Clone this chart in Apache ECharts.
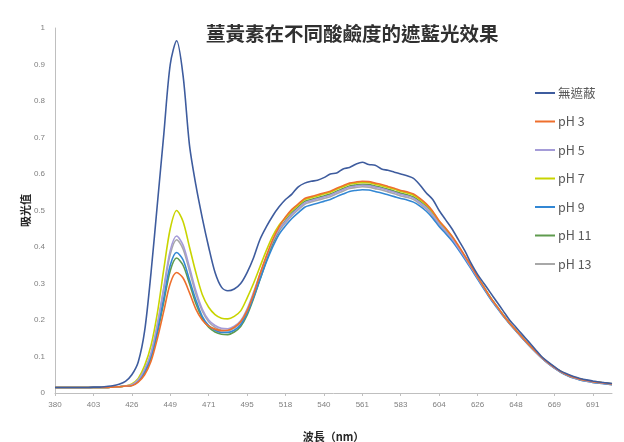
<!DOCTYPE html>
<html>
<head>
<meta charset="utf-8">
<title>薑黃素在不同酸鹼度的遮藍光效果</title>
<script src="https://cdn.jsdelivr.net/npm/echarts@6/dist/echarts.min.js"></script>
<style>
  html, body { margin: 0; padding: 0; background: #fff; }
  #chart { width: 624px; height: 442px; }
</style>
</head>
<body>
<div id="chart"></div>
<script>
// wavelength categories (nm), label shown every 6th point
const wavelengths = [
  380, 384, 388, 392, 395, 399,
  403, 407, 411, 414, 418, 422,
  426, 430, 434, 437, 441, 445,
  449, 453, 456, 460, 464, 467,
  471, 475, 479, 483, 487, 491,
  495, 499, 503, 507, 510, 514,
  518, 522, 525, 529, 533, 536,
  540, 544, 547, 551, 554, 558,
  561, 565, 568, 572, 576, 579,
  583, 587, 590, 594, 597, 601,
  604, 608, 611, 615, 619, 622,
  626, 630, 633, 637, 641, 644,
  648, 652, 655, 659, 662, 666,
  669, 673, 676, 680, 684, 687,
  691, 695, 698, 702
]

const seriesNames = ['無遮蔽', 'pH 3', 'pH 5', 'pH 7', 'pH 9', 'pH 11', 'pH 13']
const seriesColors = ['#3e5c9e', '#ee6f2d', '#a59cd8', '#c8d400', '#3287d4', '#5f9b4e', '#a8a8a8']

const noCover = [
  .015, .015, .015, .015, .015, .015, .016, .016, .018, .020, .024, .032,
  .050, .085, .17, .33, .52, .71, .90, .965, .87, .68, .57, .48, .40, .33, .29, .28, .285,
  .30, .33, .37, .42, .455, .485, .51,
  .53, .545, .565, .575, .58, .583, .59, .60, .603, .614, .618, .627,
  .632, .626, .624, .614, .61, .605, .60, .595, .588, .57, .548, .53,
  .50, .475, .45, .42, .39, .355, .325, .30, .275, .25, .225, .20,
  .18, .16, .14, .12, .10, .085, .072, .06, .052, .045, .04, .036, .033, .03, .028, .026
]
const ph3 = [
  .015, .015, .015, .015, .015, .015, .015, .015, .015, .016, .017, .019,
  .02, .03, .05, .087, .15, .225, .30, .33, .315, .275, .23, .20, .183, .175, .171, .172, .18,
  .195, .225, .27, .325, .375, .42, .455,
  .482, .503, .518, .533, .538, .543, .548, .553, .561, .568, .575, .578,
  .58, .579, .575, .571, .566, .561, .555, .551, .545, .533, .518, .498,
  .472, .452, .43, .404, .376, .348, .318, .29, .262, .238, .214, .192,
  .172, .152, .133, .115, .098, .083, .07, .059, .05, .043, .038, .034, .031, .029, .027, .025
]
const ph5 = [
  .015, .015, .015, .015, .015, .015, .015, .015, .015, .016, .017, .019,
  .023, .036, .065, .11, .19, .29, .39, .43, .405, .345, .28, .23, .20, .185, .177, .176, .183,
  .198, .23, .275, .325, .372, .415, .448,
  .47, .49, .506, .521, .527, .532, .537, .542, .55, .557, .564, .567,
  .569, .568, .564, .56, .555, .55, .544, .54, .534, .522, .508, .488,
  .464, .444, .423, .398, .372, .344, .316, .288, .261, .237, .213, .191,
  .171, .151, .132, .114, .097, .082, .069, .058, .049, .042, .037, .033, .030, .028, .026, .024
]
const ph7 = [
  .015, .015, .015, .015, .015, .015, .015, .015, .015, .016, .017, .019,
  .025, .04, .075, .13, .22, .34, .45, .50, .47, .40, .33, .27, .235, .215, .205, .203, .21,
  .225, .26, .30, .345, .39, .43, .46,
  .48, .50, .515, .53, .535, .54, .545, .55, .558, .565, .572, .575,
  .577, .576, .572, .568, .563, .558, .552, .548, .542, .53, .515, .495,
  .47, .45, .428, .402, .375, .347, .318, .29, .262, .238, .214, .192,
  .172, .152, .133, .115, .098, .083, .07, .059, .05, .043, .038, .034, .031, .029, .027, .025
]
const ph9 = [
  .015, .015, .015, .015, .015, .015, .015, .015, .015, .016, .017, .019,
  .021, .033, .058, .10, .17, .26, .35, .385, .365, .31, .255, .21, .185, .172, .166, .166, .172,
  .187, .218, .262, .31, .358, .40, .435,
  .458, .478, .494, .509, .515, .52, .525, .53, .538, .545, .552, .555,
  .557, .556, .552, .548, .543, .538, .533, .529, .523, .512, .498, .479,
  .456, .437, .417, .393, .367, .34, .312, .285, .258, .234, .211, .19,
  .17, .15, .131, .113, .096, .081, .068, .057, .048, .041, .036, .032, .029, .027, .025, .023
]
const ph11 = [
  .015, .015, .015, .015, .015, .015, .015, .015, .015, .016, .017, .019,
  .021, .032, .056, .096, .165, .25, .335, .37, .35, .30, .245, .205, .18, .167, .161, .16, .167,
  .182, .213, .258, .31, .362, .41, .447,
  .473, .494, .51, .525, .53, .535, .54, .545, .553, .56, .567, .57,
  .572, .571, .567, .563, .558, .553, .547, .543, .537, .525, .511, .491,
  .466, .446, .425, .40, .373, .345, .317, .289, .262, .238, .214, .192,
  .172, .152, .133, .115, .098, .083, .07, .059, .05, .043, .038, .034, .031, .029, .027, .025
]
const ph13 = [
  .015, .015, .015, .015, .015, .015, .015, .015, .015, .016, .017, .019,
  .022, .035, .063, .107, .185, .285, .38, .42, .395, .335, .272, .225, .195, .18, .172, .171, .178,
  .193, .225, .27, .32, .368, .41, .443,
  .466, .486, .502, .517, .523, .528, .533, .538, .546, .553, .56, .563,
  .565, .564, .56, .556, .551, .546, .54, .536, .53, .518, .504, .484,
  .46, .441, .42, .396, .37, .343, .315, .287, .26, .236, .212, .19,
  .17, .15, .131, .113, .096, .081, .068, .057, .048, .041, .036, .032, .029, .027, .025, .023
]

const seriesData = [noCover, ph3, ph5, ph7, ph9, ph11, ph13]

const chart = echarts.init(document.getElementById('chart'))
const FONT = '"Noto Sans CJK TC", "Liberation Sans", sans-serif'

chart.setOption({
  backgroundColor: '#fff',
  animation: false,
  color: seriesColors,
  title: {
    text: '薑黃素在不同酸鹼度的遮藍光效果',
    left: 206,
    top: 24,
    padding: 0,
    textStyle: {
      fontFamily: FONT,
      fontSize: 19.5,
      fontWeight: 'bold',
      color: '#303030'
    }
  },
  // thin line icons, no markers, like the spreadsheet legend
  legend: {
    orient: 'vertical',
    left: 535,
    top: 86,
    padding: 0,
    icon: 'rect',
    itemWidth: 20,
    itemHeight: 2,
    itemGap: 14.5,
    data: seriesNames,
    textStyle: {
      fontFamily: FONT,
      fontSize: 12.5,
      lineHeight: 14,
      color: '#595959',
      padding: [0, 0, 0, -2]
    }
  },
  grid: {
    left: 55,
    right: 12,
    top: 28,
    bottom: 49,
    outerBoundsMode: 'none'
  },
  xAxis: {
    type: 'category',
    boundaryGap: false,
    data: wavelengths,
    name: '波長（nm）',
    nameLocation: 'middle',
    nameGap: 38,
    nameTextStyle: {
      fontFamily: FONT,
      fontSize: 11,
      fontWeight: 'bold',
      color: '#262626'
    },
    axisLine: { lineStyle: { color: '#bfbfbf', width: 1 } },
    axisTick: { show: true, interval: 5, length: 3, lineStyle: { color: '#bfbfbf' } },
    axisLabel: {
      interval: 5,
      margin: 8,
      fontFamily: '"Liberation Sans", sans-serif',
      fontSize: 8,
      color: '#7f7f7f'
    },
    splitLine: { show: false }
  },
  yAxis: {
    type: 'value',
    min: 0,
    max: 1,
    interval: 0.1,
    name: '吸光值',
    nameLocation: 'middle',
    nameGap: 24,
    nameRotate: 90,
    nameMoveOverlap: false,
    nameTextStyle: {
      fontFamily: FONT,
      fontSize: 11,
      fontWeight: 'bold',
      color: '#262626'
    },
    axisLine: { show: true, lineStyle: { color: '#bfbfbf', width: 1 } },
    axisTick: { show: false },
    axisLabel: {
      margin: 10,
      fontFamily: '"Liberation Sans", sans-serif',
      fontSize: 8,
      color: '#7f7f7f'
    },
    splitLine: { show: false }
  },
  series: seriesNames.map((name, i) => ({
    name: name,
    type: 'line',
    data: seriesData[i],
    smooth: 0.3,
    symbol: 'none',
    lineStyle: { width: 1.6, color: seriesColors[i] },
    itemStyle: { color: seriesColors[i] },
    z: 10 - i
  }))
})
</script>
</body>
</html>
